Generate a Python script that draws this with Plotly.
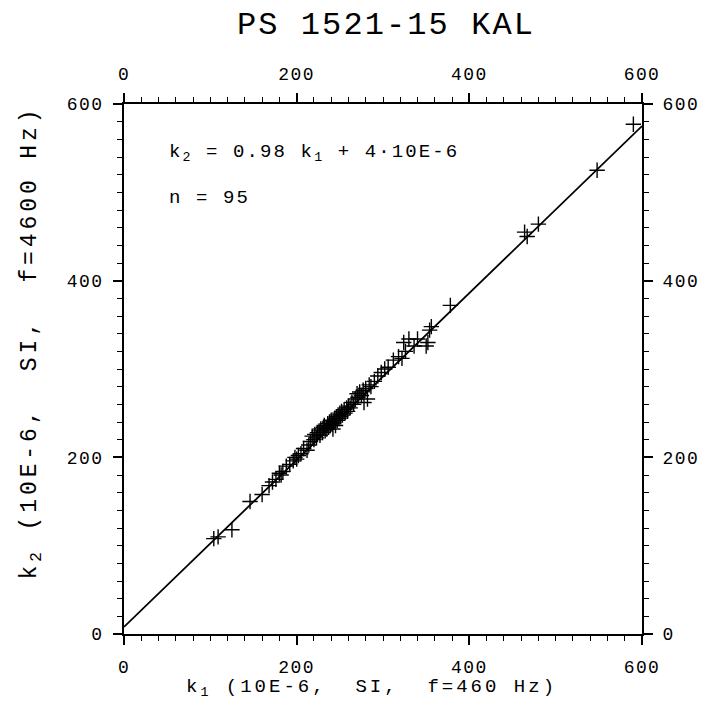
import plotly.graph_objects as go

k1 = [104, 109, 125, 146, 160, 168, 172, 176, 180, 182, 184, 188, 192, 196, 198, 200,
      202, 205, 208, 212, 214, 216, 218, 220, 221, 223, 224, 226, 227, 228, 230, 231,
      232, 233, 235, 236, 237, 238, 239, 240, 241, 242, 243, 244, 245, 246, 247, 248,
      249, 250, 251, 252, 253, 255, 256, 258, 259, 260, 262, 264, 266, 268, 270, 271,
      273, 275, 277, 278, 280, 282, 284, 286, 290, 294, 298, 302, 306, 312, 318, 322,
      324, 326, 330, 336, 340, 350, 352, 354, 356, 378, 464, 467, 480, 548, 590]
k2 = [108, 110, 118, 150, 158, 168, 172, 175, 182, 180, 184, 190, 192, 196, 200, 198,
      202, 204, 210, 208, 214, 218, 224, 220, 226, 222, 228, 230, 225, 232, 228, 234,
      236, 230, 232, 238, 234, 240, 236, 242, 238, 232, 240, 244, 236, 246, 242, 248,
      244, 250, 246, 252, 248, 254, 250, 256, 252, 258, 256, 262, 260, 266, 272, 268,
      274, 270, 276, 262, 278, 266, 282, 280, 286, 292, 296, 300, 302, 310, 314, 312,
      330, 320, 334, 326, 334, 326, 330, 344, 348, 372, 455, 450, 464, 525, 577]

fit_x = [0, 600]
fit_y = [8, 575]

tick_vals = [0, 200, 400, 600]
tick_text = ["0", "200", "400", "600"]

title_text = "PS 1521-15 KAL"
eq_text = "k<sub>2</sub> = 0.98 k<sub>1</sub> + 4·10E-6"
n_text = "n = 95"
x_title = "k<sub>1</sub> (10E-6,\u00a0\u00a0SI,\u00a0\u00a0f=460 Hz)"
y_title = "k<sub>2</sub> (10E-6,\u00a0\u00a0SI,\u00a0\u00a0f=4600 Hz)"

FONT = "Liberation Mono"

fig = go.Figure()
fig.add_trace(go.Scatter(x=fit_x, y=fit_y, mode="lines",
                         line=dict(color="black", width=1.8), showlegend=False,
                         hoverinfo="skip"))
fig.add_trace(go.Scatter(x=k1, y=k2, mode="markers",
                         marker=dict(symbol="cross-thin", size=11,
                                     line=dict(color="black", width=1.4)),
                         showlegend=False))
# invisible trace so the mirrored top/right axes are drawn
fig.add_trace(go.Scatter(x=[0], y=[0], xaxis="x2", yaxis="y2", mode="markers",
                         marker=dict(opacity=0), showlegend=False, hoverinfo="skip"))

axis_common = dict(range=[0, 600], tickvals=tick_vals, ticktext=tick_text,
                   ticks="outside", ticklen=9, tickwidth=1.5, tickcolor="black",
                   ticklabelstandoff=6,
                   showline=True, linecolor="black", linewidth=2, showgrid=False,
                   zeroline=False, tickfont=dict(family=FONT, size=18, color="black"),
                   minor=dict(dtick=20, ticks="outside", ticklen=5, tickwidth=1.2,
                              tickcolor="black", showgrid=False))

fig.update_layout(
    width=707, height=723,
    margin=dict(l=124, r=58, t=104, b=89),
    paper_bgcolor="white", plot_bgcolor="white",
    title=dict(text=title_text, x=0.546, xanchor="center", y=0.968, yanchor="middle",
               font=dict(family=FONT, size=32, color="black")),
    xaxis=dict(**axis_common, side="bottom"),
    yaxis=dict(**axis_common, side="left"),
    xaxis2=dict(**axis_common, side="top", overlaying="x", anchor="y"),
    yaxis2=dict(**axis_common, side="right", overlaying="y", anchor="x"),
    annotations=[
        dict(x=50, y=545, xref="x", yref="y", text=eq_text, showarrow=False,
             xanchor="left", yanchor="middle", align="left",
             font=dict(family=FONT, size=19, color="black")),
        dict(x=50, y=494, xref="x", yref="y", text=n_text, showarrow=False,
             xanchor="left", yanchor="middle", align="left",
             font=dict(family=FONT, size=19, color="black")),
        dict(x=0.478, y=-0.102, xref="paper", yref="paper", text=x_title,
             showarrow=False, xanchor="center", yanchor="middle",
             font=dict(family=FONT, size=19, color="black")),
        dict(x=-0.179, y=0.55, xref="paper", yref="paper", text=y_title,
             showarrow=False, xanchor="center", yanchor="middle", textangle=-90,
             font=dict(family=FONT, size=23, color="black")),
    ],
)

post = """
var gd = document.getElementById('{plot_id}');
function setLS(sel, v) {
  gd.querySelectorAll(sel).forEach(function (t) { t.style.letterSpacing = v; });
}
setLS('.gtitle', '2.1px');
setLS('.xtick text, .ytick text, .x2tick text, .y2tick text', '1.4px');
var ls = {'0': '2.1px', '1': '2.1px', '2': '3px', '3': '3.9px'};
gd.querySelectorAll('.annotation').forEach(function (a) {
  var t = a.querySelector('text');
  var v = ls[a.getAttribute('data-index')];
  if (t && v) { t.style.letterSpacing = v; }
});
"""

fig.write_html("out.html", post_script=post)
